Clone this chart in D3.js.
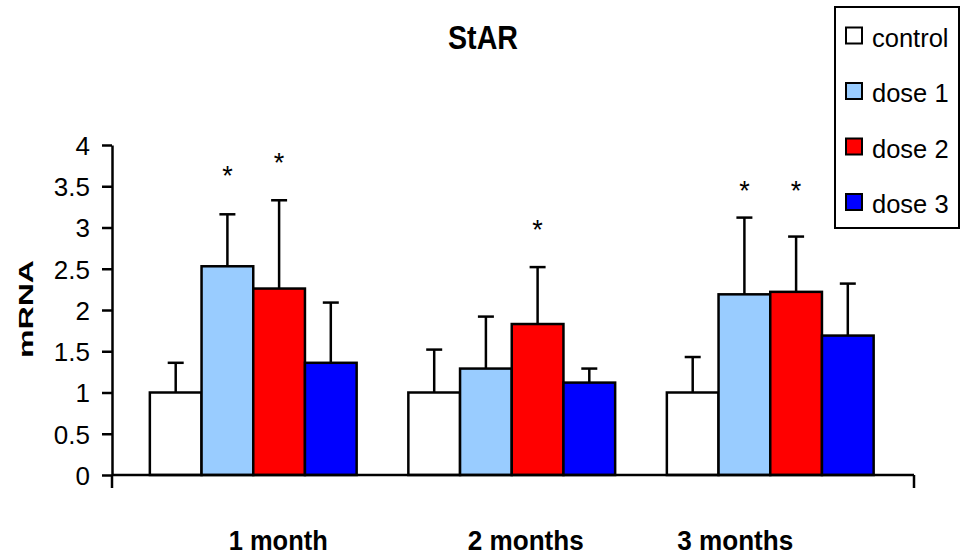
<!DOCTYPE html>
<html>
<head>
<meta charset="utf-8">
<script src="https://cdn.jsdelivr.net/npm/d3@7"></script>
<style>
  html, body { margin: 0; padding: 0; background: #fff; }
  svg { display: block; font-family: "Liberation Sans", Arial, sans-serif; }
</style>
</head>
<body>
<svg id="chart" width="961" height="558"></svg>
<script>
// Time points and treatment groups
const months = ["1 month", "2 months", "3 months"];
const series = ["control", "dose 1", "dose 2", "dose 3"];
const seriesColors = ["#FFFFFF", "#99CCFF", "#FF0000", "#0000FF"];

// Mean mRNA level per group (one array per series, in month order)
const control = [1.00, 1.00, 1.00];
const dose1   = [2.53, 1.29, 2.19];
const dose2   = [2.26, 1.83, 2.22];
const dose3   = [1.36, 1.12, 1.69];

// Upper error (SD) per group
const controlErr = [0.36, 0.52, 0.43];
const dose1Err   = [0.63, 0.63, 0.93];
const dose2Err   = [1.07, 0.69, 0.67];
const dose3Err   = [0.73, 0.17, 0.63];

// Significance markers: [month index, series index, level in mRNA units]
const significance = [
  [0, 1, 3.70], [0, 2, 3.86],
  [1, 2, 3.04],
  [2, 1, 3.52], [2, 2, 3.52]
];

const yTicks = [0, 0.5, 1, 1.5, 2, 2.5, 3, 3.5, 4];
const yTickLabels = ["0", "0.5", "1", "1.5", "2", "2.5", "3", "3.5", "4"];

const means = [control, dose1, dose2, dose3];
const errs = [controlErr, dose1Err, dose2Err, dose3Err];

const svg = d3.select("#chart");

// Plot frame
const axisLeftX = 112, axisRightX = 914, plotTop = 145, plotBottom = 475;

const y = d3.scaleLinear().domain([0, 4]).range([plotBottom, plotTop]);
const x0 = d3.scaleBand().domain(months).range([124, 899.5])
  .paddingInner(0.2).paddingOuter(0.1);
const x1 = d3.scaleBand().domain(series).range([0, x0.bandwidth()]);
const color = d3.scaleOrdinal().domain(series).range(seriesColors);

// Flatten into bar records
const bars = [];
months.forEach((m, i) => {
  series.forEach((s, j) => {
    bars.push({ month: m, series: s, value: means[j][i], err: errs[j][i] });
  });
});

// Error bars (upper half only), drawn under the bars
const capW = 16;
const eb = svg.append("g").attr("stroke", "#000").attr("stroke-width", 2.5);
bars.forEach(d => {
  const cx = x0(d.month) + x1(d.series) + x1.bandwidth() / 2;
  eb.append("line")
    .attr("x1", cx).attr("x2", cx)
    .attr("y1", y(d.value)).attr("y2", y(d.value + d.err));
  eb.append("line")
    .attr("x1", cx - capW / 2).attr("x2", cx + capW / 2)
    .attr("y1", y(d.value + d.err)).attr("y2", y(d.value + d.err));
});

// Bars
svg.append("g").selectAll("rect").data(bars).join("rect")
  .attr("x", d => x0(d.month) + x1(d.series))
  .attr("y", d => y(d.value))
  .attr("width", x1.bandwidth())
  .attr("height", d => y(0) - y(d.value))
  .attr("fill", d => color(d.series))
  .attr("stroke", "#000")
  .attr("stroke-width", 2.5);

// Significance asterisks
svg.append("g").selectAll("text").data(significance).join("text")
  .attr("x", d => x0(months[d[0]]) + x1(series[d[1]]) + x1.bandwidth() / 2)
  .attr("y", d => y(d[2]) + 15)
  .attr("text-anchor", "middle")
  .attr("font-size", 27)
  .attr("fill", "#000")
  .text("*");

// Y axis
const yAxis = svg.append("g")
  .attr("transform", `translate(${axisLeftX},0)`)
  .call(d3.axisLeft(y)
    .tickValues(yTicks)
    .tickFormat((d, i) => yTickLabels[i])
    .tickSize(10)
    .tickSizeOuter(0)
    .tickPadding(12));
yAxis.select(".domain").attr("stroke-width", 2.5);
yAxis.selectAll(".tick line").attr("stroke-width", 2.5);
yAxis.selectAll(".tick text")
  .attr("font-size", 26)
  .attr("font-family", "Liberation Sans, Arial, sans-serif")
  .attr("fill", "#000")
  .attr("dy", "0.36em");

// X axis line with end ticks
const xa = svg.append("g").attr("stroke", "#000").attr("stroke-width", 2.5);
xa.append("line").attr("x1", axisLeftX).attr("x2", axisRightX)
  .attr("y1", y(0)).attr("y2", y(0));
[axisLeftX, axisRightX].forEach(px => {
  xa.append("line").attr("x1", px).attr("x2", px)
    .attr("y1", y(0)).attr("y2", y(0) + 13);
});

// Month labels
const labelNudge = [25, 14, -35];
const labelLen = [99, 116, 116];
svg.append("g").selectAll("text").data(months).join("text")
  .attr("x", (d, i) => x0(d) + x0.bandwidth() / 2 + labelNudge[i])
  .attr("y", 550)
  .attr("text-anchor", "middle")
  .attr("font-size", 27)
  .attr("font-weight", "bold")
  .attr("textLength", (d, i) => labelLen[i])
  .attr("lengthAdjust", "spacingAndGlyphs")
  .text(d => d);

// Title
svg.append("text")
  .attr("x", 483).attr("y", 49)
  .attr("text-anchor", "middle")
  .attr("font-size", 34)
  .attr("font-weight", "bold")
  .attr("textLength", 70)
  .attr("lengthAdjust", "spacingAndGlyphs")
  .text("StAR");

// Y axis title
svg.append("text")
  .attr("transform", "translate(33,309) rotate(-90)")
  .attr("text-anchor", "middle")
  .attr("font-size", 21)
  .attr("font-weight", "bold")
  .attr("textLength", 98)
  .attr("lengthAdjust", "spacingAndGlyphs")
  .text("mRNA");

// Legend
const legend = svg.append("g");
legend.append("rect")
  .attr("x", 835).attr("y", 7).attr("width", 124).attr("height", 221)
  .attr("fill", "#fff").attr("stroke", "#000").attr("stroke-width", 2);
series.forEach((s, i) => {
  const base = 46.5 + i * 55.5;
  legend.append("rect")
    .attr("x", 846).attr("y", base - 19).attr("width", 16).attr("height", 16)
    .attr("fill", color(s)).attr("stroke", "#000").attr("stroke-width", 2);
  legend.append("text")
    .attr("x", 872).attr("y", base)
    .attr("font-size", 25.5)
    .attr("fill", "#000")
    .text(s);
});
</script>
</body>
</html>
